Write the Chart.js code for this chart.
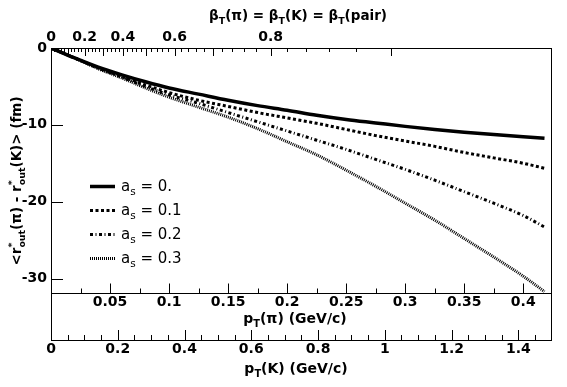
<!DOCTYPE html>
<html><head><meta charset="utf-8">
<script src="https://cdn.jsdelivr.net/npm/chart.js@4/dist/chart.umd.min.js"></script>
<style>html,body{margin:0;padding:0;background:#fff}#wrap{width:567px;height:387px}</style>
</head><body><div id="wrap"><canvas id="c" width="567" height="387"></canvas></div>
<script>
// ---- data ----
const pTpi = [0,0.02,0.04,0.06,0.08,0.1,0.125,0.15,0.175,0.2,0.225,0.25,0.275,0.3,0.325,0.35,0.375,0.4,0.418];
const dr_as0  = [0,-1.3,-2.5,-3.5,-4.4,-5.2,-6.0,-6.8,-7.5,-8.1,-8.75,-9.3,-9.75,-10.2,-10.6,-10.95,-11.25,-11.55,-11.75];
const dr_as01 = [0,-1.3,-2.6,-3.7,-4.8,-5.8,-6.8,-7.6,-8.4,-9.1,-9.8,-10.6,-11.4,-12.1,-12.8,-13.6,-14.3,-15.0,-15.65];
const dr_as02 = [0,-1.3,-2.6,-3.8,-5.0,-6.1,-7.2,-8.4,-9.6,-10.8,-12.0,-13.2,-14.5,-15.8,-17.2,-18.7,-20.2,-21.8,-23.3];
const dr_as03 = [0,-1.3,-2.7,-3.9,-5.2,-6.4,-7.7,-9.0,-10.5,-12.2,-13.9,-15.9,-18.0,-20.2,-22.4,-24.8,-27.2,-29.7,-31.7];
const seriesNames = ['0.', '0.1', '0.2', '0.3'];

const yTickLabels   = [0, -10, -20, -30];
const piTickLabels  = [0.05, 0.1, 0.15, 0.2, 0.25, 0.3, 0.35, 0.4];
const kTickLabels   = [0, 0.2, 0.4, 0.6, 0.8, 1, 1.2, 1.4];
const betaTickLabels = [0, 0.2, 0.4, 0.6, 0.8];

const mPi = 0.13957, mK = 0.493677;
const PI_MAX = 0.4235, Y_MIN = -38, Y_MAX = 0, MID_AXIS_Y = -31.9;
const pFromBeta = b => mPi * b / Math.sqrt(1 - b * b);

// ---- styling ----
const FAM = '"DejaVu Sans", sans-serif';
const dashes = [[], [3, 2.5], [3, 2.5, 1, 2.5], [1, 1]];

const datasets = [dr_as0, dr_as01, dr_as02, dr_as03].map((arr, i) => ({
  label: 'a_s = ' + seriesNames[i],
  data: pTpi.map((x, j) => ({x: x, y: arr[j]})),
  borderColor: '#000', borderWidth: i === 0 ? 3.5 : 3, borderDash: dashes[i],
  pointRadius: 0, fill: false, cubicInterpolationMode: 'monotone', xAxisID: 'x', yAxisID: 'y'
}));

function partW(ctx, p, size, weight) {
  if (p.t !== undefined) { ctx.font = `${weight} ${size}px ${FAM}`; return ctx.measureText(p.t).width; }
  ctx.font = `${weight} ${size * 0.7}px ${FAM}`;
  return Math.max(p.sub ? ctx.measureText(p.sub).width : 0, p.sup ? ctx.measureText(p.sup).width : 0);
}
function drawRich(ctx, parts, cx, baseY, size, weight, align) {
  let total = 0; for (const p of parts) total += partW(ctx, p, size, weight);
  let x = align === 'left' ? cx : cx - total / 2;
  ctx.textAlign = 'left'; ctx.textBaseline = 'alphabetic'; ctx.fillStyle = '#000';
  for (const p of parts) {
    const w = partW(ctx, p, size, weight);
    if (p.t !== undefined) { ctx.font = `${weight} ${size}px ${FAM}`; ctx.fillText(p.t, x, baseY); }
    else {
      ctx.font = `${weight} ${size * 0.7}px ${FAM}`;
      if (p.sup) ctx.fillText(p.sup, x, baseY - size * 0.42);
      if (p.sub) ctx.fillText(p.sub, x, baseY + size * 0.28);
    }
    x += w;
  }
}

const decorPlugin = {
  id: 'decor',
  afterDraw(chart) {
    const ctx = chart.ctx, ca = chart.chartArea, s = chart.scales;
    ctx.save();
    ctx.strokeStyle = '#000'; ctx.lineWidth = 1; ctx.setLineDash([]);
    const line = (x1, y1, x2, y2) => { ctx.beginPath(); ctx.moveTo(x1, y1); ctx.lineTo(x2, y2); ctx.stroke(); };
    const px = (sc, v) => Math.round(sc.getPixelForValue(v)) + 0.5;
    // left axis major ticks
    for (const v of yTickLabels) { const py = px(s.y, v); line(ca.left, py, ca.left + 12, py); }
    // middle pT(pi) axis ticks (point up)
    const midY = px(s.y, MID_AXIS_Y);
    for (let k = 1; k * 0.025 <= PI_MAX; k++) {
      const xx = px(s.x, k * 0.025); line(xx, midY, xx, midY - (k % 2 === 0 ? 10 : 5));
    }
    // bottom pT(K) axis ticks
    const kMax = s.xK.max;
    for (let k = 1; k * 0.05 <= kMax; k++) {
      const xx = px(s.xK, k * 0.05); line(xx, ca.bottom, xx, ca.bottom - (k % 4 === 0 ? 10 : 5));
    }
    // top beta axis ticks
    for (let k = 1; k <= 45; k++) {
      const xx = px(s.xTop, pFromBeta(k * 0.02)); line(xx, ca.top, xx, ca.top + (k % 5 === 0 ? 8 : 4));
    }
    // legend
    const legY = [186, 210, 234, 258];
    legY.forEach((ly, i) => {
      ctx.lineWidth = i === 0 ? 3.5 : 3; ctx.setLineDash(dashes[i]);
      line(90, ly + 0.5, 115, ly + 0.5);
      ctx.setLineDash([]);
      drawRich(ctx, [{t: 'a'}, {sub: 's'}, {t: ' = ' + seriesNames[i]}], 121, ly + 5, 15, 'normal', 'left');
    });
    // axis titles
    drawRich(ctx, [{t: '\u03b2'}, {sub: 'T'}, {t: '(\u03c0) = \u03b2'}, {sub: 'T'}, {t: '(K) = \u03b2'}, {sub: 'T'}, {t: '(pair)'}], 298, 20, 13.5, 'bold');
    drawRich(ctx, [{t: 'p'}, {sub: 'T'}, {t: '(\u03c0) (GeV/c)'}], 295, 323, 14, 'bold');
    drawRich(ctx, [{t: 'p'}, {sub: 'T'}, {t: '(K) (GeV/c)'}], 296, 373, 14, 'bold');
    ctx.save(); ctx.translate(16, 181); ctx.rotate(-Math.PI / 2);
    drawRich(ctx, [{t: '<r'}, {sup: '*', sub: 'out'}, {t: '(\u03c0) - r'}, {sup: '*', sub: 'out'}, {t: '(K)> (fm)'}], 0, 5, 13.5, 'bold');
    ctx.restore();
    ctx.restore();
  }
};

const tickFont = {family: FAM, size: 14, weight: 'bold'};
const noGrid = {drawOnChartArea: false, drawTicks: false};
const border = {display: true, color: '#000', width: 1};

new Chart(document.getElementById('c'), {
  type: 'line',
  data: {datasets},
  options: {
    responsive: false, animation: false, devicePixelRatio: 1, events: [],
    layout: {padding: 0},
    plugins: {legend: {display: false}, tooltip: {enabled: false}},
    scales: {
      x: {
        type: 'linear', position: {y: MID_AXIS_Y}, min: 0, max: PI_MAX,
        grid: noGrid, border,
        afterBuildTicks: sc => { sc.ticks = piTickLabels.map(v => ({value: v})); },
        ticks: {font: tickFont, color: '#000', padding: 1, autoSkip: false, maxRotation: 0, minRotation: 0,
          callback: v => String(+v.toFixed(3))}
      },
      xK: {
        type: 'linear', position: 'bottom', min: 0, max: PI_MAX * mK / mPi,
        grid: noGrid, border,
        afterBuildTicks: sc => { sc.ticks = kTickLabels.map(v => ({value: v})); },
        afterFit: sc => { sc.height = 47; },
        ticks: {font: tickFont, color: '#000', padding: 1, autoSkip: false, maxRotation: 0, minRotation: 0,
          callback: v => String(+v.toFixed(2))}
      },
      xTop: {
        type: 'linear', position: 'top', min: 0, max: PI_MAX,
        grid: noGrid, border,
        afterBuildTicks: sc => { sc.ticks = betaTickLabels.map(b => ({value: pFromBeta(b), beta: b})); },
        afterFit: sc => { sc.height = 48; },
        ticks: {font: tickFont, color: '#000', padding: 2, autoSkip: false, maxRotation: 0, minRotation: 0,
          callback: (v, i) => String(betaTickLabels[i])}
      },
      y: {
        type: 'linear', position: 'left', min: Y_MIN, max: Y_MAX,
        grid: noGrid, border,
        afterBuildTicks: sc => { sc.ticks = yTickLabels.map(v => ({value: v})); },
        afterFit: sc => { sc.width = 51; },
        ticks: {font: tickFont, color: '#000', padding: 4, autoSkip: false, callback: v => String(v)}
      },
      y2: {
        type: 'linear', position: 'right', min: Y_MIN, max: Y_MAX,
        grid: noGrid, border,
        afterFit: sc => { sc.width = 16; },
        ticks: {display: false}
      }
    }
  },
  plugins: [decorPlugin]
});
</script></body></html>
